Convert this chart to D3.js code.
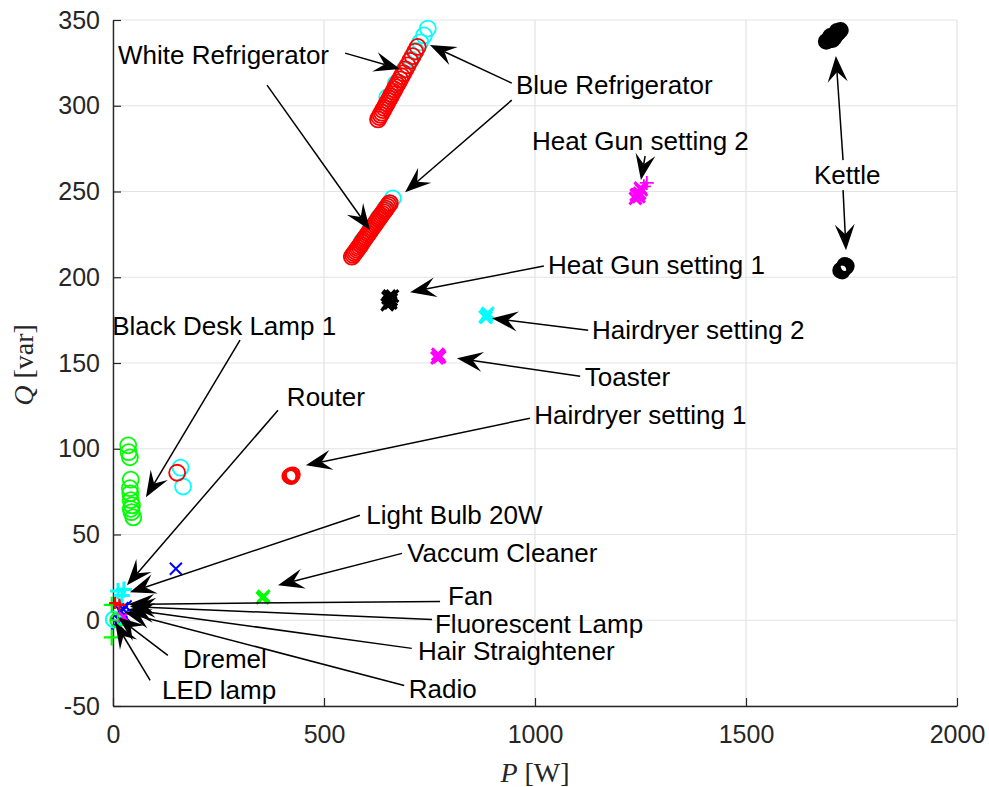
<!DOCTYPE html>
<html><head><meta charset="utf-8">
<script src="https://cdn.jsdelivr.net/npm/d3@7"></script>
<style>body{margin:0;background:#fff}</style>
</head><body><svg id="c" width="989" height="787"></svg>
<script>
const xTicks=[0,500,1000,1500,2000];
const yTicks=[-50,0,50,100,150,200,250,300,350];

// refrigerator clusters
const blueFridge=[[650,305],[670,313],[690,321],[706,327],[718,332],[728,337],[737,341],[746,345],
 [590,221],[610,228],[630,235],[645,240],[655,243],[663,246],[160,89],[166,78]];
const whiteFridge=[[628,292],[631,293.4],[634,294.7],[637,296],[640,297.4],[643,298.7],[646,300.1],[649,301.4],[652,302.8],[655,304.1],[658,305.5],[661,306.8],[664,308.2],[667,309.5],[670,310.9],[673,312.2],[676,313.6],[680,315.4],[684,317.2],[688,319],[693,321.2],[698,323.5],[704,326.2],[710,328.9],[716,331.6],[722,334.3],
 [566,212],[569,213],[572,214],[575,215],[578,216],[581,217],[584,218],[587,219],[590,220.3],[593,221.3],[596,222.4],[599,223.4],[602,224.5],[605,225.5],[608,226.6],[611,227.6],[614,228.7],[617,229.7],[620,230.8],[623,231.8],[626,232.8],[629,233.9],[632,234.9],[635,236],[638,237],[641,238],[644,239],[647,240],[650,241.2],[653,242.2],[656,243.2],[152,86]];
const kettle=[[1690,337.5],[1694,338],[1697,339],[1700,339.5],[1703,340],[1706,340.5],[1709,341],[1712,341.5],[1715,342],[1718,342.5],[1721,343.5],[1724,344],[1700,340.5],[1710,340],[1716,343.5],[1705,338.5],
 [1724,204],[1727,204.5],[1730,205],[1733,205.5],[1736,206],[1738,206.5],[1728,203.5],[1734,207]];
const deskLamp=[[36,102],[37,98],[40,95],[42,82],[40,77],[41,74],[42,70],[45,67],[42,65],[44,63],[48,60]];
const hairdryer1=[[418,84],[421,84.5],[424,84],[426,85],[422,83.5]];
const heatGun1=[[650,184],[653,185],[656,186],[659,187],[662,189],[652,188],[658,185],[655,189]];
const heatGun2X=[[1238,246],[1243,248],[1248,249],[1252,251],[1246,247],[1240,248],[1250,252]];
const heatGun2P=[[1258,253],[1265,255]];
const hairdryer2=[[882,177],[886,178],[888,179],[884,176.5]];
const toaster=[[768,153],[772,154.5],[770,155],[774,153.5]];
const vacuum=[[354,13],[357,14]];
const blueX=[[149,30],[20,5],[25,3],[15,0],[30,8],[10,-2],[22,7]];
const cyanPlus=[[12,17],[26,18],[21,14.5]];
const greenPlus=[[-3,9],[12,0],[-3,-10]];
const smallCircCyan=[[2,0.5]];
const smallCircGreen=[[10,0]];
const redPlus=[[15,9],[5,10]];
const magentaX=[[25,2]];

// annotations: label, text anchor [P,Q], arrows [[tailP,tailQ],[tipP,tipQ]]
const labels=["White Refrigerator","Blue Refrigerator","Heat Gun setting 2","Kettle","Heat Gun setting 1","Hairdryer setting 2","Toaster","Hairdryer setting 1","Black Desk Lamp 1","Router","Light Bulb 20W","Vaccum Cleaner","Fan","Fluorescent Lamp","Hair Straightener","Radio","Dremel","LED lamp"];
const labelPos=[[12,329.6],[955,312],[993,279.4],[1661,259.6],[1031,207],[1135,169],[1118,141.7],[998,119.6],[-2,171.5],[412,130],[600,61.2],[697,39],[794,14.2],[763,-2.4],[723,-18.1],[701,-40.3],[166,-22.8],[116,-40.9]];
const arrowSets=[
 [[[550,330.7],[680,321.4]],[[365,312],[609,227.5]]],
 [[[945,313.2],[751,335.4]],[[945,303.3],[692,249.6]]],
 [[[1261,270.7],[1251,256.7]]],
 [[[1730,268.3],[1713,329]],[[1730,250.8],[1737,215.8]]],
 [[[1021,206.5],[704,191.3]]],
 [[[1126,169.1],[898,176.1]]],
 [[[1107,142.3],[815,152.8]]],
 [[[988,117.8],[457,90.4]]],
 [[[301,163.3],[78,71.7]]],
 [[[391,122.5],[33,20.4]]],
 [[[585,61.2],[40,16.3]]],
 [[[685,39],[391,20.4]]],
 [[[775,11],[36,9.3]]],
 [[[756,0.5],[40,8]]],
 [[[708,-16.4],[36,6.4]]],
 [[[690,-38],[28,4.6]]],
 [[[130,-20.5],[12,1.7]]],
 [[[88,-35],[5,-1.2]]]
];

const svg=d3.select("#c");
const L=113,R=957,T=20,B=706;
const x=d3.scaleLinear().domain([0,2000]).range([L,R]);
const y=d3.scaleLinear().domain([-50,350]).range([B,T]);
const axisCol="#262626";
const fmt=d=>String(d);

// grid
const g=svg.append("g");
g.selectAll(".gx").data(xTicks).join("line").attr("x1",d=>x(d)).attr("x2",d=>x(d)).attr("y1",T).attr("y2",B).attr("stroke","#e3e3e3").attr("stroke-width",1.2);
g.selectAll(".gy").data(yTicks).join("line").attr("x1",L).attr("x2",R).attr("y1",d=>y(d)).attr("y2",d=>y(d)).attr("stroke","#e3e3e3").attr("stroke-width",1.2);

// axes
const xa=svg.append("g").attr("transform",`translate(0,${B})`).call(d3.axisBottom(x).tickValues(xTicks).tickFormat(fmt).tickSizeInner(-8).tickSizeOuter(0).tickPadding(14));
const ya=svg.append("g").attr("transform",`translate(${L},0)`).call(d3.axisLeft(y).tickValues(yTicks).tickFormat(fmt).tickSizeInner(-8).tickSizeOuter(0).tickPadding(13));
[xa,ya].forEach(a=>{a.select(".domain").attr("stroke",axisCol).attr("stroke-width",1.4);
 a.selectAll(".tick line").attr("stroke",axisCol).attr("stroke-width",1.2);
 a.selectAll(".tick text").attr("fill",axisCol).attr("font-family","Liberation Sans, Arial, sans-serif").attr("font-size",25);});
xa.selectAll(".tick text").attr("dy","0.9em");

// axis labels
const xl=svg.append("text").attr("x",535).attr("y",782).attr("text-anchor","middle").attr("font-family","Liberation Serif, serif").attr("font-size",28).attr("fill",axisCol);
xl.append("tspan").attr("font-style","italic").text("P");
xl.append("tspan").text(" [W]");
const yl=svg.append("text").attr("transform","translate(33,365) rotate(-90)").attr("text-anchor","middle").attr("font-family","Liberation Serif, serif").attr("font-size",28).attr("fill",axisCol);
yl.append("tspan").attr("font-style","italic").text("Q");
yl.append("tspan").text(" [var]");

const plot=svg.append("g");
function circles(data,col,r=8,w=1.8){plot.append("g").selectAll("circle").data(data).join("circle").attr("cx",d=>x(d[0])).attr("cy",d=>y(d[1])).attr("r",r).attr("fill","none").attr("stroke",col).attr("stroke-width",w);}
function crosses(data,col,s=6,w=2.2){plot.append("g").selectAll("path").data(data).join("path").attr("d",d=>{const a=x(d[0]),b=y(d[1]);return `M${a-s},${b-s}L${a+s},${b+s}M${a-s},${b+s}L${a+s},${b-s}`;}).attr("stroke",col).attr("stroke-width",w).attr("fill","none");}
function pluses(data,col,s=7,w=2.2){plot.append("g").selectAll("path").data(data).join("path").attr("d",d=>{const a=x(d[0]),b=y(d[1]);return `M${a-s},${b}L${a+s},${b}M${a},${b-s}L${a},${b+s}`;}).attr("stroke",col).attr("stroke-width",w).attr("fill","none");}

circles(blueFridge,"#00FFFF");
circles(whiteFridge,"#FF0000");
circles(kettle,"#000000",7,2.5);
circles(deskLamp,"#00FF00");
circles(hairdryer1,"#FF0000",7,2);
crosses(heatGun1,"#000000",6,3.2);
crosses(heatGun2X,"#FF00FF",6,3);
pluses(heatGun2P,"#FF00FF",7,1.8);
crosses(hairdryer2,"#00FFFF",6,3);
crosses(toaster,"#FF00FF",6,3);
crosses(vacuum,"#00FF00",6,3);
crosses(blueX,"#0000FF",6,2);
pluses(cyanPlus,"#00FFFF",8,3);
circles(smallCircCyan,"#00FFFF",8,2);
circles(smallCircGreen,"#00FF00",7,2);
pluses(greenPlus,"#00FF00",8,2.2);
pluses(redPlus,"#FF0000",6,2.2);
crosses(magentaX,"#FF00FF",5,2.5);

// annotations
const ann=svg.append("g");
function arrow(t,h){
 const x0=x(t[0]),y0=y(t[1]),x1=x(h[0]),y1=y(h[1]);
 const dx=x1-x0,dy=y1-y0,len=Math.hypot(dx,dy),ux=dx/len,uy=dy/len,px=-uy,py=ux;
 const HL=26,HW=10,N=16;
 ann.append("line").attr("x1",x0).attr("y1",y0).attr("x2",x1-ux*N).attr("y2",y1-uy*N).attr("stroke","#000").attr("stroke-width",1.5);
 const bx=x1-ux*HL,by=y1-uy*HL,nx=x1-ux*N,ny=y1-uy*N;
 ann.append("path").attr("d",`M${x1},${y1}L${bx+px*HW},${by+py*HW}L${nx},${ny}L${bx-px*HW},${by-py*HW}Z`).attr("fill","#000");
}
labels.forEach((lab,i)=>{
 ann.append("text").attr("x",x(labelPos[i][0])).attr("y",y(labelPos[i][1])).attr("dominant-baseline","central").attr("font-family","Liberation Sans, Arial, sans-serif").attr("font-size",26).attr("fill","#000").text(lab);
 arrowSets[i].forEach(a=>arrow(a[0],a[1]));
});
</script></body></html>
